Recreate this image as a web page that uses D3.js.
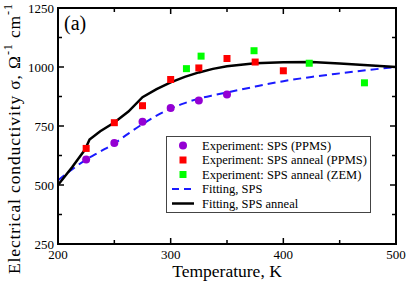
<!DOCTYPE html>
<html>
<head>
<meta charset="utf-8">
<script src="https://cdn.jsdelivr.net/npm/d3@7"></script>
<style>
  body { margin: 0; background: #fff; }
  text { font-family: "Liberation Serif", "DejaVu Serif", serif; fill: #000; }
</style>
</head>
<body>
<svg id="chart" width="407" height="281"></svg>
<script>
// data
var spsT = [225, 250, 275, 300, 325, 350];
var spsPPMS = [608, 678, 768, 826, 858, 884];

var annealT = [225, 250, 275, 300, 325, 350, 375, 400];
var annealPPMS = [655, 764, 836, 947, 996, 1036, 1021, 984];

var zemT = [314, 327, 374, 423, 472];
var annealZEM = [993, 1046, 1069, 1016, 933];

var fitT = [200, 212.5, 225, 237.5, 250, 262.5, 275, 287.5, 300, 312.5, 325, 337.5, 350, 375, 400, 425, 450, 475, 500];
var fitSPS = [520, 566, 608, 642, 676, 718, 758, 794, 824, 847, 866, 880, 892, 917, 940, 958, 973, 987, 1000];

var fitAnnealT = [200, 212.5, 224, 228, 237.5, 250, 262.5, 275, 287.5, 300, 312.5, 325, 337.5, 350, 375, 400, 425, 450, 475, 500];
var fitAnneal = [500, 575, 650, 693, 728, 765, 811, 872, 906, 935, 958, 977, 992, 1003, 1016, 1020, 1021, 1015, 1007, 1000];

var xTicks = [200, 300, 400, 500];
var yTicks = [250, 500, 750, 1000, 1250];

var legendLabels = ["Experiment: SPS (PPMS)", "Experiment: SPS anneal (PPMS)",
                    "Experiment: SPS anneal (ZEM)", "Fitting, SPS", "Fitting, SPS anneal"];

var margin = {left: 58, top: 8, right: 396, bottom: 244};

var svg = d3.select("#chart");

var x = d3.scaleLinear().domain([200, 500]).range([margin.left, margin.right]);
var y = d3.scaleLinear().domain([250, 1250]).range([margin.bottom, margin.top]);

function zip(a, b) {
    return a.map(function(v, i) { return [v, b[i]]; });
}

// ticks, pointing inward on all four sides
var xMinor = d3.range(250, 500, 100);
var yMinor = d3.range(375, 1250, 250);
var ticks = svg.append("g").attr("stroke", "#000").attr("stroke-width", 1.5);

xTicks.concat(xMinor).forEach(function(t) {
    var len = xTicks.indexOf(t) >= 0 ? 6 : 4;
    ticks.append("line").attr("x1", x(t)).attr("x2", x(t)).attr("y1", margin.bottom).attr("y2", margin.bottom - len);
    ticks.append("line").attr("x1", x(t)).attr("x2", x(t)).attr("y1", margin.top).attr("y2", margin.top + len);
});
yTicks.concat(yMinor).forEach(function(t) {
    var len = yTicks.indexOf(t) >= 0 ? 6 : 4;
    ticks.append("line").attr("y1", y(t)).attr("y2", y(t)).attr("x1", margin.left).attr("x2", margin.left + len);
    ticks.append("line").attr("y1", y(t)).attr("y2", y(t)).attr("x1", margin.right).attr("x2", margin.right - len);
});

// tick labels
svg.append("g").selectAll("text").data(xTicks).join("text")
    .attr("x", function(d) { return x(d); })
    .attr("y", margin.bottom + 15)
    .attr("text-anchor", "middle")
    .style("font-size", "13px")
    .text(function(d) { return d; });

svg.append("g").selectAll("text").data(yTicks).join("text")
    .attr("x", margin.left - 4)
    .attr("y", function(d) { return y(d) + 4.5; })
    .attr("text-anchor", "end")
    .style("font-size", "13px")
    .text(function(d) { return d; });

// fitted curves
var line = d3.line()
    .x(function(d) { return x(d[0]); })
    .y(function(d) { return y(d[1]); });

svg.append("path")
    .datum(zip(fitT, fitSPS))
    .attr("d", line.curve(d3.curveMonotoneX))
    .attr("fill", "none")
    .attr("stroke", "#1a1aff")
    .attr("stroke-width", 2)
    .attr("stroke-dasharray", "8,5");

svg.append("path")
    .datum(zip(fitAnnealT, fitAnneal))
    .attr("d", line.curve(d3.curveLinear))
    .attr("fill", "none")
    .attr("stroke", "#000")
    .attr("stroke-width", 2.5);

// experimental points
svg.append("g").selectAll("circle").data(zip(spsT, spsPPMS)).join("circle")
    .attr("cx", function(d) { return x(d[0]); })
    .attr("cy", function(d) { return y(d[1]); })
    .attr("r", 4)
    .attr("fill", "#9400d3");

function squares(data, color) {
    svg.append("g").selectAll("rect").data(data).join("rect")
        .attr("x", function(d) { return x(d[0]) - 3.5; })
        .attr("y", function(d) { return y(d[1]) - 3.5; })
        .attr("width", 7)
        .attr("height", 7)
        .attr("fill", color);
}
squares(zip(annealT, annealPPMS), "#ff0000");
squares(zip(zemT, annealZEM), "#00ff00");

// frame
svg.append("rect")
    .attr("x", margin.left).attr("y", margin.top)
    .attr("width", margin.right - margin.left)
    .attr("height", margin.bottom - margin.top)
    .attr("fill", "none").attr("stroke", "#000").attr("stroke-width", 2);

// legend
var lg = svg.append("g");
lg.append("rect")
    .attr("x", 166.5).attr("y", 136.5).attr("width", 204).attr("height", 76)
    .attr("fill", "#fff").attr("stroke", "#444").attr("stroke-width", 1);

var rowY = function(i) { return 145.5 + i * 14.5; };
lg.append("circle").attr("cx", 183).attr("cy", rowY(0)).attr("r", 4).attr("fill", "#9400d3");
lg.append("rect").attr("x", 179.5).attr("y", rowY(1) - 3.5).attr("width", 7).attr("height", 7).attr("fill", "#ff0000");
lg.append("rect").attr("x", 179.5).attr("y", rowY(2) - 3.5).attr("width", 7).attr("height", 7).attr("fill", "#00ff00");
lg.append("line").attr("x1", 172).attr("x2", 194).attr("y1", rowY(3)).attr("y2", rowY(3))
    .attr("stroke", "#1a1aff").attr("stroke-width", 2).attr("stroke-dasharray", "7,5");
lg.append("line").attr("x1", 172).attr("x2", 194).attr("y1", rowY(4)).attr("y2", rowY(4))
    .attr("stroke", "#000").attr("stroke-width", 2.5);

lg.selectAll("text.lab").data(legendLabels).join("text")
    .attr("class", "lab")
    .attr("x", 202)
    .attr("y", function(d, i) { return rowY(i) + 4; })
    .style("font-size", "12.5px")
    .text(function(d) { return d; });

// panel label
svg.append("text").attr("x", 64).attr("y", 30).style("font-size", "20px").text("(a)");

// axis titles
svg.append("text")
    .attr("x", (margin.left + margin.right) / 2)
    .attr("y", 277)
    .attr("text-anchor", "middle")
    .style("font-size", "17.5px")
    .text("Temperature, K");

var yl = svg.append("text")
    .attr("transform", "translate(20," + 139 + ") rotate(-90)")
    .attr("text-anchor", "middle")
    .attr("textLength", 270)
    .attr("lengthAdjust", "spacing")
    .style("font-size", "17.5px");
yl.append("tspan").text("Electrical conductivity σ,  Ω");
yl.append("tspan").attr("dy", -8).style("font-size", "12px").text("-1");
yl.append("tspan").attr("dy", 8).text(" cm");
yl.append("tspan").attr("dy", -8).style("font-size", "12px").text("-1");
</script>
</body>
</html>
